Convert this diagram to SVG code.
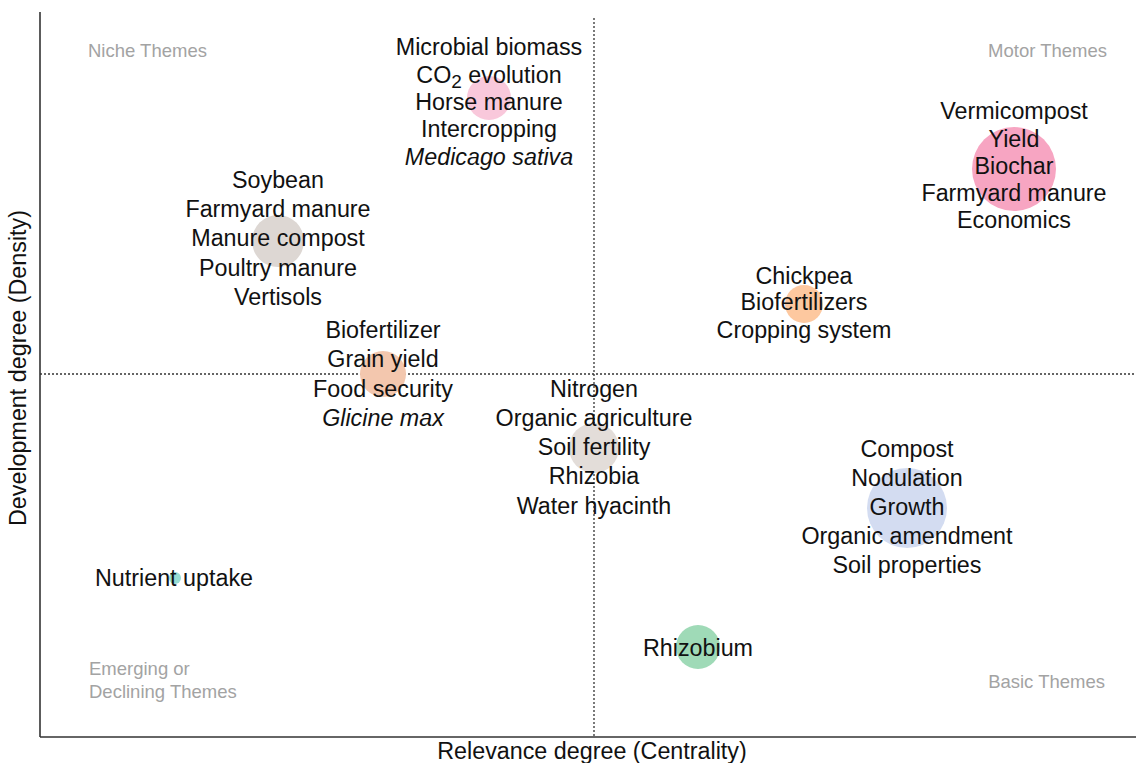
<svg xmlns="http://www.w3.org/2000/svg" width="1136" height="763" viewBox="0 0 1136 763">
<style>
.lbl{font-family:"Liberation Sans",Arial,sans-serif;font-size:23.3px;fill:#111;text-anchor:middle}
.it{font-style:italic}
.q{font-family:"Liberation Sans",Arial,sans-serif;font-size:18.5px;fill:#a3a3a3}
.ax{font-family:"Liberation Sans",Arial,sans-serif;font-size:23.3px;fill:#111;text-anchor:middle}
.axis{stroke:#333;stroke-width:1.6;fill:none}
.dot{stroke:#333;stroke-width:1.3;stroke-dasharray:2,2;fill:none}
</style>
<rect width="1136" height="763" fill="#fff"/>
<g id="axes">
<line class="dot" x1="594" y1="18" x2="594" y2="737"/>
<line class="dot" x1="40" y1="374" x2="1136" y2="374"/>
<line class="axis" x1="40" y1="12" x2="40" y2="737"/>
<line class="axis" x1="40" y1="737" x2="1136" y2="737"/>
<text class="ax" x="592" y="759">Relevance degree (Centrality)</text>
<text class="ax" transform="translate(26,368) rotate(-90)">Development degree (Density)</text>
</g>
<g id="quadrants">
<text class="q" x="88" y="57">Niche Themes</text>
<text class="q" x="1107" y="57" text-anchor="end">Motor Themes</text>
<text class="q" x="89" y="675">Emerging or</text>
<text class="q" x="89" y="698">Declining Themes</text>
<text class="q" x="1105" y="688" text-anchor="end">Basic Themes</text>
</g>
<g id="connectors"></g>
<g id="node-microbial">
<circle cx="489" cy="98" r="22" fill="#f9c8db"/>
<text class="lbl" x="489" y="55">Microbial biomass</text>
<text class="lbl" x="489" y="83">CO<tspan font-size="19" dy="5">2</tspan><tspan dy="-5"> evolution</tspan></text>
<text class="lbl" x="489" y="110">Horse manure</text>
<text class="lbl" x="489" y="137">Intercropping</text>
<text class="lbl it" x="489" y="165">Medicago sativa</text>
</g>
<g id="node-soybean">
<circle cx="278" cy="241" r="26" fill="#ddd7d3"/>
<text class="lbl" x="278" y="188">Soybean</text>
<text class="lbl" x="278" y="217">Farmyard manure</text>
<text class="lbl" x="278" y="246">Manure compost</text>
<text class="lbl" x="278" y="276">Poultry manure</text>
<text class="lbl" x="278" y="305">Vertisols</text>
</g>
<g id="node-biofertilizer">
<circle cx="383" cy="374" r="23" fill="#f3c7ae"/>
<text class="lbl" x="383" y="338">Biofertilizer</text>
<text class="lbl" x="383" y="367">Grain yield</text>
<text class="lbl" x="383" y="397">Food security</text>
<text class="lbl it" x="383" y="426">Glicine max</text>
</g>
<g id="node-nitrogen">
<circle cx="594" cy="448" r="25" fill="#e3ddd9"/>
<text class="lbl" x="594" y="397">Nitrogen</text>
<text class="lbl" x="594" y="426">Organic agriculture</text>
<text class="lbl" x="594" y="455">Soil fertility</text>
<text class="lbl" x="594" y="484">Rhizobia</text>
<text class="lbl" x="594" y="514">Water hyacinth</text>
</g>
<g id="node-vermicompost">
<circle cx="1014" cy="169" r="42" fill="#f7a5c2"/>
<text class="lbl" x="1014" y="119">Vermicompost</text>
<text class="lbl" x="1014" y="147">Yield</text>
<text class="lbl" x="1014" y="174">Biochar</text>
<text class="lbl" x="1014" y="201">Farmyard manure</text>
<text class="lbl" x="1014" y="228">Economics</text>
</g>
<g id="node-chickpea">
<circle cx="804" cy="304" r="19" fill="#fdc89f"/>
<text class="lbl" x="804" y="284">Chickpea</text>
<text class="lbl" x="804" y="310">Biofertilizers</text>
<text class="lbl" x="804" y="338">Cropping system</text>
</g>
<g id="node-compost">
<circle cx="907" cy="508" r="40" fill="#d3dcf1"/>
<text class="lbl" x="907" y="457">Compost</text>
<text class="lbl" x="907" y="486">Nodulation</text>
<text class="lbl" x="907" y="515">Growth</text>
<text class="lbl" x="907" y="544">Organic amendment</text>
<text class="lbl" x="907" y="573">Soil properties</text>
</g>
<g id="node-rhizobium">
<circle cx="698" cy="647" r="22" fill="#9fdab7"/>
<text class="lbl" x="698" y="656">Rhizobium</text>
</g>
<g id="node-nutrient">
<circle cx="175" cy="578" r="6" fill="#97dcd3"/>
<text class="lbl" x="174" y="586">Nutrient uptake</text>
</g>
</svg>
